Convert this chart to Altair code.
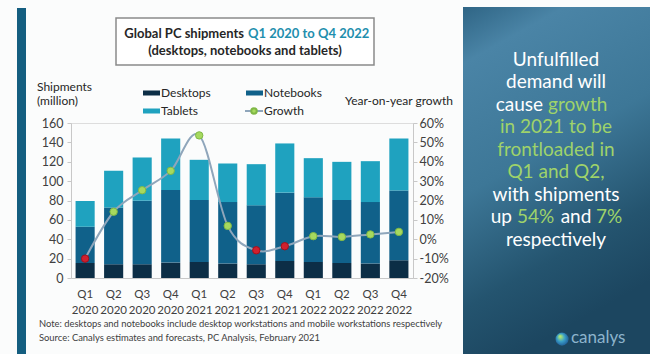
import altair as alt
import pandas as pd

FONT = "Lato"

quarters = ["Q1 2020", "Q2 2020", "Q3 2020", "Q4 2020",
            "Q1 2021", "Q2 2021", "Q3 2021", "Q4 2021",
            "Q1 2022", "Q2 2022", "Q3 2022", "Q4 2022"]
desktops = [15.5, 14.2, 14.2, 15.9, 16.6, 14.9, 14.2, 17.6, 16.6, 15.5, 14.9, 18.3]
notebooks = [37.4, 58.7, 65.6, 75.0, 63.9, 63.5, 60.8, 70.5, 66.7, 65.0, 63.5, 71.9]
tablets = [26.6, 37.7, 44.6, 53.2, 41.5, 39.8, 42.5, 50.8, 40.4, 39.4, 42.2, 53.9]
growth = [-10.0, 14.2, 25.3, 35.3, 53.6, 6.9, -5.7, -3.6, 1.6, 1.2, 2.5, 3.8]

series = ["Desktops", "Notebooks", "Tablets"]
series_colors = ["#0c2e46", "#10618a", "#1fa2bf"]
left_ticks = [0, 20, 40, 60, 80, 100, 120, 140, 160]
right_ticks = [-20, -10, 0, 10, 20, 30, 40, 50, 60]

title_a = "Global PC shipments"
title_b = "Q1 2020 to Q4 2022"
title_c = "(desktops, notebooks and tablets)"
note_1 = "Note: desktops and notebooks include desktop workstations and mobile workstations respectively"
note_2 = "Source: Canalys estimates and forecasts, PC Analysis, February 2021"

rows = []
for i, q in enumerate(quarters):
    for k, (name, vals) in enumerate(zip(series, [desktops, notebooks, tablets])):
        rows.append({"quarter": q, "series": name, "ord": k, "value": vals[i]})
bars_df = pd.DataFrame(rows)
growth_df = pd.DataFrame({"quarter": quarters, "growth": growth})

PL, PT, PR, PB = 71, 123, 237, 76
W, H = 650 - PL - PR, 354 - PT - PB


def px(x):
    return x - PL


def py(y):
    return y - PT


one = alt.Data(values=[{"k": 1}])


def txt(s, x, y, size=12, color="#262626", align="left", weight="normal", baseline="middle"):
    return alt.Chart(one).mark_text(
        align=align, baseline=baseline, fontSize=size, color=color,
        fontWeight=weight, font=FONT
    ).encode(x=alt.value(px(x)), y=alt.value(py(y)), text=alt.value(s))


def rect(x1, y1, x2, y2, **kw):
    return alt.Chart(one).mark_rect(**kw).encode(
        x=alt.value(px(x1)), x2=alt.value(px(x2)),
        y=alt.value(py(y1)), y2=alt.value(py(y2)))


xenc = alt.X(
    "quarter:N", sort=quarters,
    scale=alt.Scale(paddingInner=0.33, paddingOuter=0.16),
    axis=alt.Axis(title=None, labelAngle=0, labelExpr="split(datum.label, ' ')",
                  labelFontSize=11.5, labelColor="#404040", labelPadding=10,
                  labelLineHeight=16, ticks=False, domainColor="#c8c8c8",
                  labelBaseline="top", labelFont=FONT))

bars = alt.Chart(bars_df).mark_bar().encode(
    x=xenc,
    y=alt.Y("value:Q", stack="zero", scale=alt.Scale(domain=[0, 160]),
            axis=alt.Axis(values=left_ticks, title=None, grid=False,
                          labelFontSize=12.5, labelColor="#404040", labelFont=FONT,
                          tickSize=4, tickColor="#c8c8c8", domainColor="#c8c8c8",
                          labelPadding=4)),
    color=alt.Color("series:N", scale=alt.Scale(domain=series, range=series_colors), legend=None),
    order=alt.Order("ord:Q", sort="ascending"),
)

gscale = alt.Scale(domain=[-20, 60])
line = alt.Chart(growth_df).mark_line(interpolate="cardinal", color="#8fa6bb", strokeWidth=2).encode(
    x=xenc,
    y=alt.Y("growth:Q", scale=gscale,
            axis=alt.Axis(orient="right", values=right_ticks, labelExpr="datum.value + '%'",
                          title=None, grid=False, labelFontSize=12.5, labelColor="#404040",
                          labelFont=FONT, tickSize=4, tickColor="#c8c8c8",
                          domainColor="#c8c8c8", labelPadding=2)),
)
points = alt.Chart(growth_df).mark_point(filled=True, size=55, strokeWidth=1, opacity=1).encode(
    x=xenc,
    y=alt.Y("growth:Q", scale=gscale, axis=None),
    fill=alt.condition(alt.datum.growth < 0, alt.value("#d0202e"), alt.value("#a6d95f")),
    stroke=alt.condition(alt.datum.growth < 0, alt.value("#a0101e"), alt.value("#7fb845")),
)

panel_fill = {"gradient": "linear", "x1": 0, "y1": 0, "x2": 0.3, "y2": 1,
              "stops": [{"offset": 0, "color": "#2f6585"},
                        {"offset": 0.15, "color": "#4a84a6"},
                        {"offset": 0.5, "color": "#3d7797"},
                        {"offset": 0.8, "color": "#24546f"},
                        {"offset": 1, "color": "#1c4660"}]}
logo_fill = {"gradient": "radial", "x1": 0.35, "y1": 0.3, "r1": 0.05,
             "x2": 0.5, "y2": 0.5, "r2": 0.6,
             "stops": [{"offset": 0, "color": "#b5e86a"},
                       {"offset": 0.45, "color": "#3aa0c8"},
                       {"offset": 1, "color": "#1b4f8f"}]}

deco = [
    rect(17, 8, 26, 354, color="#145e80"),
    rect(463, 7, 650, 354, fill=panel_fill),
    rect(116, 18, 374, 65, fill="white", stroke="#8a8a8a", strokeWidth=1.5),
    txt(title_a, 244, 34, size=13, weight="bold", align="right"),
    txt(title_b, 248, 34, size=13, weight="bold", color="#1f8fae"),
    txt(title_c, 245, 51, size=13, weight="bold", align="center"),
    txt("Shipments", 37, 87),
    txt("(million)", 37, 101),
    txt("Year-on-year growth", 453, 101, align="right"),
    rect(143, 90.5, 160, 95.5, color=series_colors[0]),
    rect(246, 90.5, 263, 95.5, color=series_colors[1]),
    rect(143, 108.5, 160, 113.5, color=series_colors[2]),
    txt(series[0], 161, 93),
    txt(series[1], 264, 93),
    txt(series[2], 161, 111),
    txt("Growth", 264, 111),
    alt.Chart(one).mark_rule(color="#8fa6bb", strokeWidth=2).encode(
        x=alt.value(px(245)), x2=alt.value(px(263)), y=alt.value(py(111))),
    alt.Chart(one).mark_point(filled=True, size=30, fill="#a6d95f", stroke="#7fb845", opacity=1).encode(
        x=alt.value(px(254)), y=alt.value(py(111))),
    txt(note_1, 39, 324, size=9.4, color="#404040"),
    txt(note_2, 39, 337.5, size=9.4, color="#404040"),
]

G = "#9fd36a"
WH = "#ffffff"
ps = 19
pc = 556
y0, dy = 59.5, 22.5
ly = [y0 + i * dy for i in range(9)]
panel = [
    txt("Unfulfilled", pc, ly[0], size=ps, color=WH, align="center"),
    txt("demand will", pc, ly[1], size=ps, color=WH, align="center"),
    txt("cause", 543, ly[2], size=ps, color=WH, align="right"),
    txt("growth", 548, ly[2], size=ps, color=G, align="left"),
    txt("in 2021 to be", pc, ly[3], size=ps, color=G, align="center"),
    txt("frontloaded in", pc, ly[4], size=ps, color=G, align="center"),
    txt("Q1 and Q2,", pc, ly[5], size=ps, color=G, align="center"),
    txt("with shipments", pc, ly[6], size=ps, color=WH, align="center"),
    txt("up", 512, ly[7], size=ps, color=WH, align="right"),
    txt("54%", 517, ly[7], size=ps, color=G, align="left"),
    txt("and", 576, ly[7], size=ps, color=WH, align="center"),
    txt("7%", 596, ly[7], size=ps, color=G, align="left"),
    txt("respectively", pc, ly[8], size=ps, color=WH, align="center"),
    alt.Chart(one).mark_point(filled=True, size=170, fill=logo_fill, opacity=1, shape="circle").encode(
        x=alt.value(px(562)), y=alt.value(py(339))),
    txt("canalys", 571, 338, size=17, color="#8db4cc"),
]

chart = alt.layer(*deco[:3], bars, line, points, *deco[3:], *panel).resolve_scale(
    y="independent"
).properties(
    width=W, height=H,
    autosize=alt.AutoSizeParams(type="none"),
    padding={"left": PL, "top": PT, "right": PR, "bottom": PB},
    background="#fbfcfc",
).configure_view(stroke=None).configure(font=FONT)

chart.save("out.html", embed_options={"renderer": "svg", "actions": False})
